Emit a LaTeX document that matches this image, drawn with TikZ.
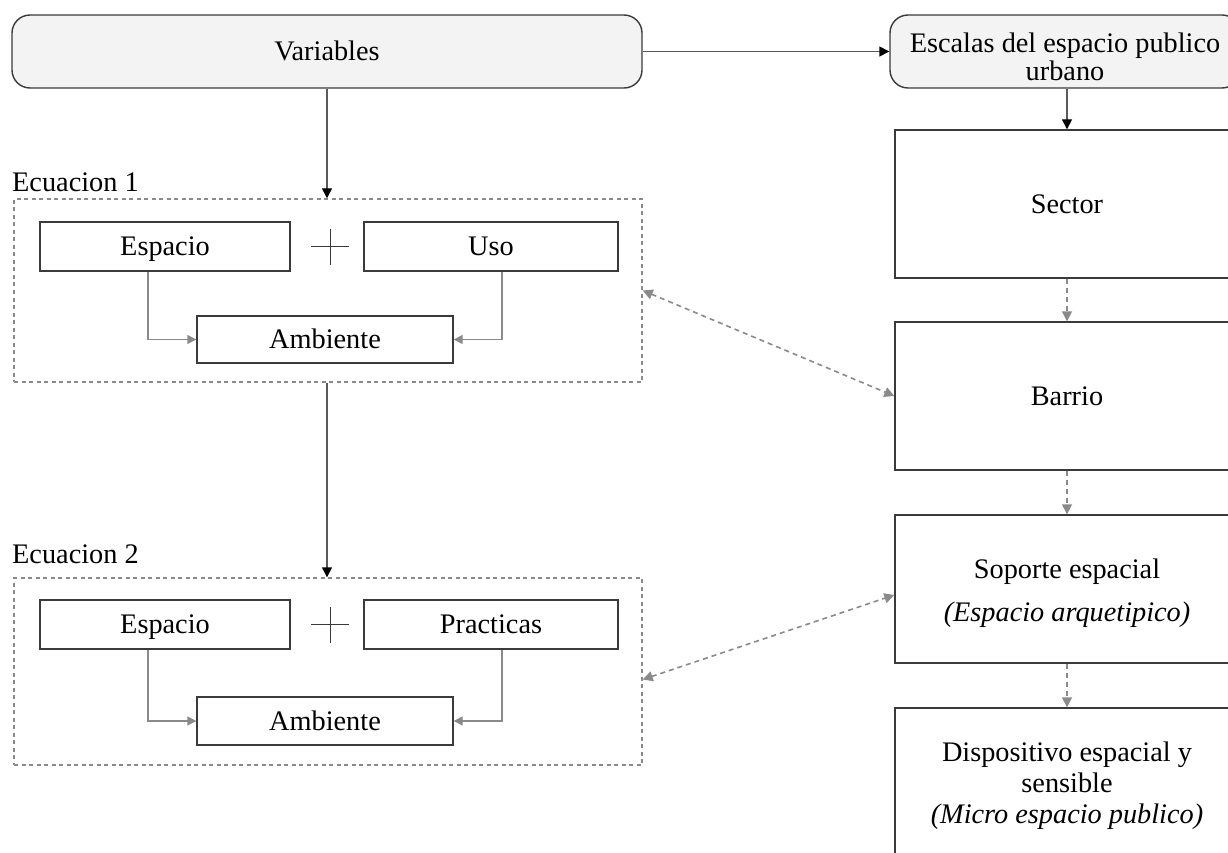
\documentclass[tikz,border=0pt]{standalone}
\usepackage{fontspec}
\setmainfont{Liberation Serif}
\usetikzlibrary{arrows.meta,positioning}
\definecolor{boxline}{HTML}{3A3A3A}
\definecolor{pale}{HTML}{F3F3F3}
\definecolor{conngray}{HTML}{8A8A8A}
\definecolor{mainline}{HTML}{5A5A5A}
\tikzset{
  roundbox/.style={draw=boxline, line width=1.4pt, fill=pale, rounded corners=18pt, inner sep=0pt, align=center},
  plainbox/.style={draw=boxline, line width=1.4pt, fill=white, inner sep=0pt, align=center},
  oneline/.style={text height=18.7pt, text depth=0pt},
  boxtext/.style={inner sep=0pt, align=center},
  eqframe/.style={draw=conngray, line width=1.4pt, dash pattern=on 4pt off 3.5pt, inner sep=0pt},
  eqlabel/.style={anchor=base west, inner sep=0pt},
  mainarrow/.style={draw=mainline, line width=1.4pt, -{Triangle[length=10pt,width=10pt,color=black]}},
  innerarrow/.style={draw=conngray, line width=1.4pt, -{Triangle[length=9pt,width=9pt,color=conngray]}},
  dasharrow/.style={draw=conngray, line width=1.6pt, dash pattern=on 5pt off 4pt, -{Triangle[length=10pt,width=10pt,color=conngray]}},
  bidash/.style={draw=conngray, line width=1.6pt, dash pattern=on 5pt off 4pt, {Triangle[length=10pt,width=10pt,color=conngray]}-{Triangle[length=10pt,width=10pt,color=conngray]}},
  plussign/.style={draw=boxline, line width=0.9pt}
}
\begin{document}
\begin{tikzpicture}[x=1pt,y=-1pt, every node/.style={font=\fontsize{28.3}{28}\selectfont}]
\useasboundingbox (0,0) rectangle (1228,853);
\clip (0,0) rectangle (1228,853);

% top row
\node[roundbox, oneline, minimum width=630pt, minimum height=73pt] (var) at (327,51.5) {Variables};
\node[roundbox, minimum width=350pt, minimum height=73pt] (esc) at (1065,51.5) {};
\node[boxtext] (esc-t) at ([yshift=-5pt]esc.center) {Escalas del espacio publico\\urbano};

% right column
\node[plainbox, oneline, minimum width=344pt, minimum height=148pt] (sector) at (1067,204) {Sector};
\node[plainbox, oneline, minimum width=344pt, minimum height=148pt] (barrio) at (1067,396) {Barrio};
\node[plainbox, minimum width=344pt, minimum height=148pt] (soporte) at (1067,589) {};
\node[boxtext] (soporte-t) at ([yshift=-4pt]soporte.center) {Soporte espacial\\[15pt]\textit{(Espacio arquetipico)}};
\node[plainbox, minimum width=344pt, minimum height=148pt] (dispo) at (1067,782) {};
\node[boxtext] (dispo-t) at ([yshift=-4pt]dispo.center) {Dispositivo espacial y\\[3pt]sensible\\[3pt]\textit{(Micro espacio publico)}};

% equation 1
\node[eqframe, minimum width=628pt, minimum height=183pt] (eq1) at (328,290.5) {};
\node[eqlabel] (lab1) at (12,192) {Ecuacion 1};
\node[plainbox, oneline, minimum width=250pt, minimum height=49pt] (esp1) at (165,246.5) {Espacio};
\node[plainbox, oneline, minimum width=254pt, minimum height=49pt] (uso) at (491,246.5) {Uso};
\node[plainbox, oneline, minimum width=256pt, minimum height=47pt] (amb1) at (325,339.5) {Ambiente};
\draw[plussign] (311,246.5) -- (349,246.5) (330,228.5) -- (330,264.5);
\draw[innerarrow] ([xshift=-17pt]esp1.south) |- (amb1.west);
\draw[innerarrow] ([xshift=11pt]uso.south) |- (amb1.east);

% equation 2
\node[eqframe, minimum width=628pt, minimum height=187pt] (eq2) at (328,671.5) {};
\node[eqlabel] (lab2) at (12,563) {Ecuacion 2};
\node[plainbox, oneline, minimum width=250pt, minimum height=49pt] (esp2) at (165,624.5) {Espacio};
\node[plainbox, oneline, minimum width=254pt, minimum height=49pt] (prac) at (491,624.5) {Practicas};
\node[plainbox, oneline, minimum width=256pt, minimum height=48pt] (amb2) at (325,721) {Ambiente};
\draw[plussign] (311,624.5) -- (349,624.5) (330,606.5) -- (330,642.5);
\draw[innerarrow] ([xshift=-17pt]esp2.south) |- (amb2.west);
\draw[innerarrow] ([xshift=11pt]prac.south) |- (amb2.east);

% main arrows
\draw[mainarrow] (var.east) -- (esc.west);
\draw[mainarrow] (var.south) -- (var.south |- eq1.north);
\draw[mainarrow] (eq1.south -| var.south) -- (var.south |- eq2.north);
\draw[mainarrow] (esc.south -| sector.north) -- (sector.north);

% right column dashed arrows
\draw[dasharrow] (sector.south) -- (barrio.north);
\draw[dasharrow] (barrio.south) -- (soporte.north);
\draw[dasharrow] (soporte.south) -- (dispo.north);

% cross links
\draw[bidash] (eq1.east) -- (barrio.west);
\draw[bidash] ([yshift=-8pt]eq2.east) -- ([yshift=-6pt]soporte.west);
\end{tikzpicture}
\end{document}
